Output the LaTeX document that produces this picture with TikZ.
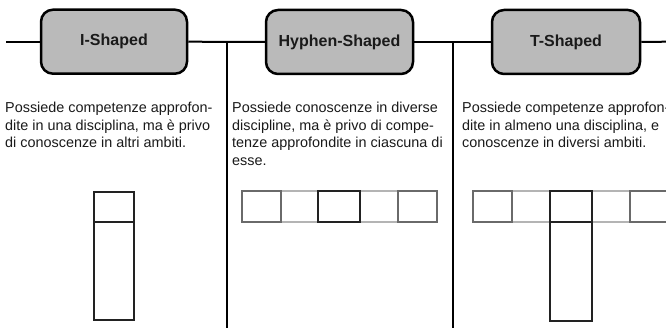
\documentclass[tikz,border=0pt]{standalone}
\usepackage{fontspec}
\setmainfont{Liberation Sans}
\definecolor{boxfill}{HTML}{BABABA}
\definecolor{txt}{HTML}{1A1A1A}
\definecolor{sqgray}{HTML}{6A6A6A}
\definecolor{sqlight}{HTML}{B4B4B4}
\definecolor{sqdark}{HTML}{222222}
\tikzset{
  hdr/.style={draw=black, line width=2.5pt, fill=boxfill, rounded corners=12pt,
    minimum width=146pt, minimum height=64pt, inner sep=0pt,
    font=\fontsize{16}{19}\selectfont\bfseries, text=txt},
  conn/.style={draw=black, line width=2pt},
  body/.style={anchor=base west, inner sep=0pt, font=\fontsize{14.4}{17.5}\selectfont, text=txt},
  sqg/.style={draw=sqgray, line width=2pt},
  sql/.style={draw=sqlight, line width=2pt},
  sqd/.style={draw=sqdark, line width=2pt},
}
\begin{document}
\begin{tikzpicture}[x=1pt,y=-1pt]
\useasboundingbox (0,0) rectangle (666,328);
\fill[white] (0,0) rectangle (666,328);
\clip (0,0) rectangle (666,328);

% headers
\node[hdr] (h1) at (114,41.7) {I-Shaped};
\node[hdr, minimum width=147pt] (h2) at (339.5,42) {Hyphen-Shaped};
\node[hdr, minimum width=148pt] (h3) at (566,42) {T-Shaped};

% connectors
\coordinate (s) at (6,41.7);
\coordinate (e) at (666,41.7);
\coordinate (j1) at (226.5,41.7);
\coordinate (j2) at (453,41.7);
\coordinate (b1) at (226.5,328);
\coordinate (b2) at (453,328);
\draw[conn] (s) -- (h1.west);
\draw[conn] (h1.east) -- (h2.west);
\draw[conn] (h2.east) -- (h3.west);
\draw[conn] (h3.east) -- (e);
\draw[conn] (j1) -- (b1);
\draw[conn] (j2) -- (b2);

% texts column 1
\node[body] (t11) at (5,113) {Possiede competenze approfon-};
\node[body] (t12) at (5,130.5) {dite in una disciplina, ma è privo};
\node[body] (t13) at (5,148) {di conoscenze in altri ambiti.};
% column 2
\node[body] (t21) at (232,113) {Possiede conoscenze in diverse};
\node[body] (t22) at (232,130.5) {discipline, ma è privo di compe-};
\node[body] (t23) at (232,148) {tenze approfondite in ciascuna di};
\node[body] (t24) at (232,165.5) {esse.};
% column 3
\node[body] (t31) at (462,113) {Possiede competenze approfon-};
\node[body] (t32) at (462,130.5) {dite in almeno una disciplina, e};
\node[body] (t33) at (462,148) {conoscenze in diversi ambiti.};

% I-shape
\draw[sqd] (93.5,192) rectangle (134,320);
\draw[sqd] (93.5,222) -- (134,222);

% Hyphen-shape
\draw[sql] (281,191) rectangle (318,222);
\draw[sql] (360,191) rectangle (398,222);
\draw[sqg] (242,191) rectangle (281,222);
\draw[sqg] (398,191) rectangle (437,222);
\draw[sqd] (318,191) rectangle (360,222);

% T-shape
\draw[sql] (512,191) rectangle (550,222);
\draw[sql] (592,191) rectangle (630,222);
\draw[sqg] (473,191) rectangle (512,222);
\draw[sqg] (630,191) rectangle (670,222);
\draw[sqd] (550,191) rectangle (592,222);
\draw[sqd] (550,222) rectangle (592,321);
\end{tikzpicture}
\end{document}
